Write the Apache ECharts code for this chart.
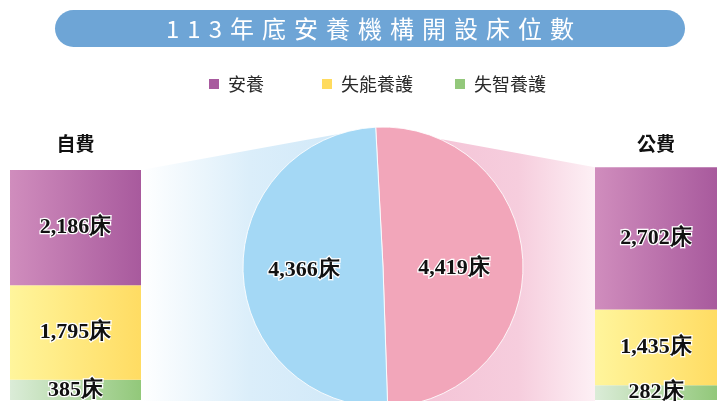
<!DOCTYPE html>
<html>
<head>
<meta charset="utf-8">
<script src="https://cdn.jsdelivr.net/npm/echarts@6/dist/echarts.min.js"></script>
<style>
  html, body { margin: 0; padding: 0; background: #fff; }
  #main { width: 717px; height: 401px; }
</style>
</head>
<body>
<div id="main"></div>
<script>
// ---- data ----
const titleText = '113年底安養機構開設床位數';
const payTypes = ['自費', '公費'];
const careTypes = ['安養', '失能養護', '失智養護'];
const selfPaidBeds = [2186, 1795, 385];
const publicPaidBeds = [2702, 1435, 282];
const payTotals = [4366, 4419];
const unit = '床';

// ---- styles & layout ----
const SANS = '"Noto Sans CJK TC", "Noto Sans", sans-serif';
const SERIF = '"Liberation Serif", "DejaVu Serif", serif';
const legendColors = ['#a85a9e', '#ffdb5e', '#93c87b'];
const barGradients = [
  ['#d08dbd', '#a85a9d'],
  ['#fff59c', '#ffdc63'],
  ['#dbecd8', '#92c87a']
];
const pieColors = { '自費': '#a4d8f5', '公費': '#f2a6ba' };
const PIE = { cx: 383, cy: 267, r: 140, start: 93 };
const GRID_TOP = 155, GRID_BOTTOM = 1, Y_MAX = 4650;
const grids = [
  { left: 10, width: 131 },
  { left: 595, width: 132 }
];
const legendLefts = [209, 322, 455];
const H = 401;

const fmt = v => v.toLocaleString('en-US') + unit;
const hGrad = (a, b) => new echarts.graphic.LinearGradient(0, 0, 1, 0, [
  { offset: 0, color: a }, { offset: 1, color: b }
]);

const valueLabel = {
  show: true,
  position: 'inside',
  formatter: p => fmt(p.value),
  fontFamily: SERIF,
  fontWeight: 'bold',
  fontSize: 22,
  color: '#111',
  textBorderColor: '#fff',
  textBorderWidth: 2.5
};

const chart = echarts.init(document.getElementById('main'), null, { renderer: 'canvas' });

// stacked bars: bottom-up order is 失智養護, 失能養護, 安養
const bedSets = [selfPaidBeds, publicPaidBeds];
const barSeries = [];
bedSets.forEach((beds, g) => {
  [2, 1, 0].forEach(i => {
    barSeries.push({
      type: 'bar',
      name: careTypes[i],
      xAxisIndex: g,
      yAxisIndex: g,
      stack: 'beds' + g,
      data: [beds[i]],
      barWidth: '100%',
      barCategoryGap: 0,
      itemStyle: { color: hGrad(barGradients[i][0], barGradients[i][1]) },
      label: valueLabel,
      emphasis: { disabled: true },
      z: 3
    });
  });
});

// title text with even spacing between characters
const titleRich = titleText.split('').map(ch => '{c|' + ch + '}').join('');

// the pie's top split point, where both connector bands meet
const rad = PIE.start * Math.PI / 180;
const apex = [PIE.cx + PIE.r * Math.cos(rad), PIE.cy - PIE.r * Math.sin(rad)];

const option = {
  animation: false,
  backgroundColor: '#fff',
  legend: careTypes.map((name, i) => ({
    data: [{ name: name, itemStyle: { color: legendColors[i] } }],
    left: legendLefts[i],
    top: 75,
    padding: 0,
    icon: 'rect',
    itemWidth: 10,
    itemHeight: 10,
    selectedMode: false,
    textStyle: { fontFamily: SANS, fontSize: 18, color: '#2a2a2a', padding: [0, 0, 0, 4] }
  })),
  grid: grids.map(g => ({ left: g.left, width: g.width, top: GRID_TOP, bottom: GRID_BOTTOM })),
  xAxis: payTypes.map((name, g) => ({
    gridIndex: g,
    type: 'category',
    data: [name],
    position: 'top',
    axisLine: { show: false },
    axisTick: { show: false },
    splitLine: { show: false },
    axisLabel: { show: true, margin: 2, fontFamily: SANS, fontSize: 19, fontWeight: 'bold', color: '#111' }
  })),
  yAxis: payTypes.map((name, g) => ({
    gridIndex: g,
    type: 'value',
    min: 0,
    max: Y_MAX,
    show: false
  })),
  series: barSeries.concat([{
    type: 'pie',
    name: '床位',
    center: [PIE.cx, PIE.cy],
    radius: PIE.r,
    startAngle: PIE.start,
    clockwise: true,
    data: [
      { name: payTypes[1], value: payTotals[1], itemStyle: { color: pieColors['公費'] } },
      { name: payTypes[0], value: payTotals[0], itemStyle: { color: pieColors['自費'] } }
    ],
    itemStyle: { borderColor: 'rgba(255,255,255,0.85)', borderWidth: 1 },
    label: Object.assign({}, valueLabel),
    labelLine: { show: false },
    labelLayout: p => (p.dataIndex === 0 ? { dx: -2, dy: 4 } : { dx: -6 }),
    emphasis: { disabled: true },
    z: 3
  }])
};

chart.setOption(option);

// connector bands from the bar tops to the pie
const selfTop = chart.convertToPixel({ xAxisIndex: 0, yAxisIndex: 0 }, [payTypes[0], selfPaidBeds.reduce((a, b) => a + b, 0)]);
const pubTop = chart.convertToPixel({ xAxisIndex: 1, yAxisIndex: 1 }, [payTypes[1], publicPaidBeds.reduce((a, b) => a + b, 0)]);
const leftX = grids[0].left + grids[0].width;
const rightX = grids[1].left;

const graphicElements = [
  {
    type: 'polygon',
    z: 0,
    silent: true,
    shape: { points: [[leftX, selfTop[1]], apex, [PIE.cx, PIE.cy], [PIE.cx, H + 10], [leftX, H + 10]] },
    style: {
      fill: new echarts.graphic.LinearGradient(0, 0, 1, 0, [
        { offset: 0, color: '#ffffff' },
        { offset: 0.45, color: '#dbeefa' },
        { offset: 1, color: '#cde6f7' }
      ])
    }
  },
  {
    type: 'polygon',
    z: 0,
    silent: true,
    shape: { points: [apex, [rightX, pubTop[1]], [rightX, H + 10], [PIE.cx, H + 10], [PIE.cx, PIE.cy]] },
    style: {
      fill: new echarts.graphic.LinearGradient(0, 0, 1, 0, [
        { offset: 0, color: '#f3bfd3' },
        { offset: 0.65, color: '#f6cddd' },
        { offset: 1, color: '#fdf0f5' }
      ])
    }
  },
  {
    type: 'rect',
    z: 1,
    silent: true,
    shape: { x: 55, y: 10, width: 630, height: 37, r: 18.5 },
    style: { fill: '#6ea5d6' }
  },
  {
    type: 'text',
    z: 2,
    silent: true,
    x: 370,
    y: 29,
    style: {
      text: titleRich,
      align: 'center',
      verticalAlign: 'middle',
      fill: '#fff',
      rich: {
        c: { fontFamily: SANS, fontSize: 24, fill: '#fff', padding: [0, 4, 0, 4] }
      }
    }
  }
];

// rebuild once with everything in place so label layout runs a single time
chart.clear();
option.graphic = { elements: graphicElements };
chart.setOption(option);
</script>
</body>
</html>
